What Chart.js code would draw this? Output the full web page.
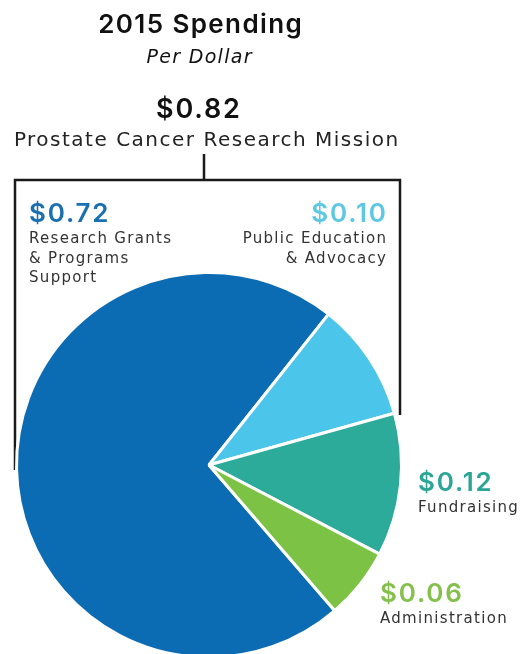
<!DOCTYPE html>
<html>
<head>
<meta charset="utf-8">
<script src="https://cdn.jsdelivr.net/npm/chart.js@4.4.1/dist/chart.umd.min.js"></script>
<style>
  html, body { margin: 0; padding: 0; background: #fff; overflow: hidden; }
  #contenedor { position: relative; width: 525px; height: 680px; }
</style>
</head>
<body>
<div id="contenedor">
  <canvas id="grafico"></canvas>
</div>
<script>
// Datos del gráfico
const categorias = ["Research Grants & Programs Support", "Public Education & Advocacy", "Fundraising", "Administration"];
const valores = [0.72, 0.10, 0.12, 0.06];
const colores = ["#0b6cb3", "#4cc5ea", "#2caa9a", "#7cc244"];
const coloresTexto = ["#1a6fb1", "#5cc8e4", "#2ba696", "#86c04c"];
const etiquetasValor = ["$0.72", "$0.10", "$0.12", "$0.06"];
const lineasEtiqueta = [
    ["Research Grants", "& Programs", "Support"],
    ["Public Education", "& Advocacy"],
    ["Fundraising"],
    ["Administration"]
];

const titulo = "2015 Spending";
const subtitulo = "Per Dollar";
const totalMision = "$0.82";
const textoMision = "Prostate Cancer Research Mission";

const fuente = "'DejaVu Sans', sans-serif";
const fuenteCifras = "Inter, sans-serif";

// posiciones de las etiquetas (x, baseline del valor, alineación)
const posEtiquetas = [
    { x: 29, y: 222, align: "left" },
    { x: 386, y: 222, align: "right" },
    { x: 418, y: 491, align: "left" },
    { x: 380, y: 602, align: "left" }
];

// texto con espaciado; si va a la derecha se compensa el hueco final
function texto(ctx, t, x, y, esp) {
    ctx.letterSpacing = esp + "px";
    let dx = 0;
    if (ctx.textAlign === "right") dx = esp;
    if (ctx.textAlign === "center") dx = esp / 2;
    ctx.fillText(t, x + dx, y);
}

// Corchete y textos de encabezado, detrás del pastel
const encabezado = {
    id: "encabezado",
    beforeDatasetsDraw(chart) {
        const ctx = chart.ctx;
        ctx.save();
        ctx.fillStyle = "#111";
        ctx.textAlign = "center";
        ctx.textBaseline = "alphabetic";

        ctx.font = "600 26px " + fuenteCifras;
        texto(ctx, titulo, 200, 33, 1.4);
        ctx.font = "italic 19px " + fuente;
        texto(ctx, subtitulo, 199, 63, 1.3);
        ctx.font = "600 27px " + fuenteCifras;
        texto(ctx, totalMision, 198, 118, 1.8);
        ctx.fillStyle = "#222";
        ctx.font = "20px " + fuente;
        texto(ctx, textoMision, 206, 146, 1.5);
        ctx.letterSpacing = "0px";

        // corchete
        ctx.strokeStyle = "#1a1a1a";
        ctx.lineWidth = 2.5;
        ctx.beginPath();
        ctx.moveTo(204, 154);
        ctx.lineTo(204, 180);
        ctx.moveTo(15, 470);
        ctx.lineTo(15, 180);
        ctx.lineTo(400, 180);
        ctx.lineTo(400, 415);
        ctx.stroke();
        ctx.restore();
    },
    afterDatasetsDraw(chart) {
        const ctx = chart.ctx;
        ctx.save();
        ctx.textBaseline = "alphabetic";
        posEtiquetas.forEach((p, i) => {
            ctx.textAlign = p.align;
            ctx.fillStyle = coloresTexto[i];
            ctx.font = "600 26px " + fuenteCifras;
            texto(ctx, etiquetasValor[i], p.x, p.y, 1.8);
            ctx.fillStyle = "#333";
            ctx.font = "15px " + fuente;
            lineasEtiqueta[i].forEach((l, j) => {
                texto(ctx, l, p.x, p.y + 21 + j * 19.5, 1.3);
            });
        });
        ctx.restore();
    }
};

const ctx = document.getElementById("grafico").getContext("2d");
new Chart(ctx, {
    type: "pie",
    data: {
        labels: categorias,
        datasets: [{
            data: valores,
            backgroundColor: colores,
            borderColor: "#ffffff",
            borderWidth: 3
        }]
    },
    options: {
        responsive: true,
        maintainAspectRatio: false,
        animation: false,
        rotation: 139.2,
        layout: {
            padding: { top: 271, bottom: 21, left: 15, right: 122 }
        },
        plugins: {
            legend: { display: false },
            tooltip: { enabled: false },
            title: { display: false }
        }
    },
    plugins: [encabezado]
});
</script>
</body>
</html>
